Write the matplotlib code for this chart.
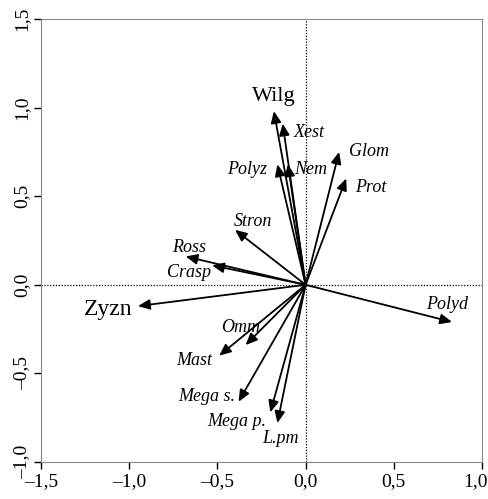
import numpy as np
import matplotlib
matplotlib.use("Agg")
import matplotlib.pyplot as plt
from matplotlib.transforms import ScaledTranslation

plt.rcParams['font.family'] = ['Liberation Serif', 'DejaVu Serif']

# arrow tips (component loadings)
names = ["Wilg", "Xest", "Polyz", "Nem", "Glom", "Prot", "Stron", "Ross", "Crasp",
         "Zyzn", "Polyd", "Omm", "Mast", "Mega s.", "Mega p.", "L.pm"]
x_load = [-0.18, -0.13, -0.16, -0.10, 0.19, 0.23, -0.40, -0.68, -0.53,
          -0.95, 0.83, -0.34, -0.49, -0.38, -0.20, -0.16]
y_load = [0.98, 0.91, 0.68, 0.68, 0.75, 0.60, 0.31, 0.16, 0.11,
          -0.12, -0.21, -0.34, -0.40, -0.66, -0.72, -0.78]

# label positions
x_lab = [-0.18, 0.02, -0.33, 0.03, 0.36, 0.37, -0.30, -0.66, -0.66,
         -1.12, 0.80, -0.37, -0.63, -0.56, -0.39, -0.14]
y_lab = [1.06, 0.86, 0.65, 0.65, 0.75, 0.55, 0.36, 0.21, 0.07,
         -0.14, -0.11, -0.24, -0.43, -0.63, -0.77, -0.87]
big = ["Wilg", "Zyzn"]

x_ticks = [-1.5, -1.0, -0.5, 0.0, 0.5, 1.0]
y_ticks = [-1.0, -0.5, 0.0, 0.5, 1.0, 1.5]

def fmt(v):
    s = "%.1f" % abs(v)
    s = s.replace(".", ",")
    return ("\u2013" + s) if v < 0 else s

fig = plt.figure(figsize=(4.89, 4.99), dpi=100)
ax = fig.add_axes([41/489, 1-462/499, (482-41)/489, (462-19)/499])

ax.axhline(0, color='k', ls=(0, (1, 1.3)), lw=0.9)
ax.axvline(0, color='k', ls=(0, (1, 1.3)), lw=0.9)

for i in range(len(names)):
    ax.annotate("", xy=(x_load[i], y_load[i]), xytext=(0, 0),
                arrowprops=dict(arrowstyle='-|>,head_length=0.5,head_width=0.22',
                                color='k', lw=1.3,
                                mutation_scale=14, shrinkA=0, shrinkB=0))
    if names[i] in big:
        fs = 17 if names[i] == "Zyzn" else 16
        ax.text(x_lab[i], y_lab[i], names[i], fontsize=fs, ha='center', va='center')
    else:
        ax.text(x_lab[i], y_lab[i], names[i], fontsize=13, style='italic',
                ha='center', va='center')

ax.set_xlim(-1.5, 1.0)
ax.set_ylim(-1.0, 1.5)
ax.set_xticks(x_ticks)
ax.set_yticks(y_ticks)
ax.set_xticklabels([fmt(v) for v in x_ticks], fontsize=14)
ax.set_yticklabels([fmt(v) for v in y_ticks], fontsize=14, rotation=90, va='center')
ax.tick_params(direction='out', length=5, width=1, color='k', pad=3)
for s in ax.spines.values():
    s.set_color('#888888')
    s.set_linewidth(0.8)

# keep the last x label inside the figure
last = ax.get_xticklabels()[-1]
last.set_ha('right')
last.set_transform(last.get_transform() + ScaledTranslation(6/100, 0, fig.dpi_scale_trans))

fig.savefig("out.png", dpi=100)
